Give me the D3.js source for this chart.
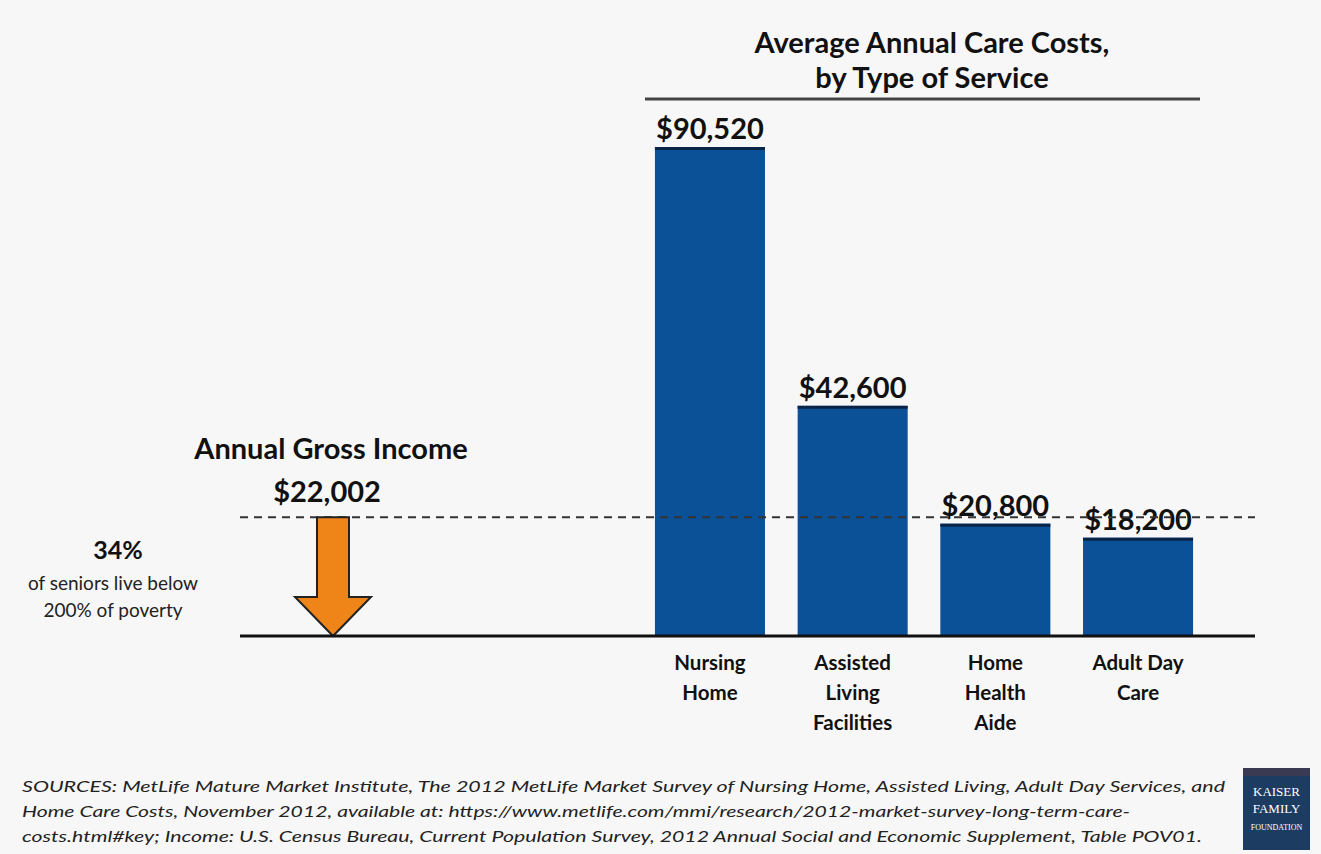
<!DOCTYPE html>
<html>
<head>
<meta charset="utf-8">
<script src="https://cdn.jsdelivr.net/npm/d3@7"></script>
<style>
  html, body { margin: 0; padding: 0; background: #f7f7f7; }
  svg { display: block; font-family: Lato, "Open Sans", sans-serif; }
  .value-label { font-size: 29px; font-weight: 700; fill: #111; }
  .cat-label { font-size: 20.5px; font-weight: 700; fill: #111; }
  .title { font-size: 29px; font-weight: 700; fill: #111; }
  .note { font-size: 19px; fill: #222; }
  .source { font-size: 15px; font-style: italic; fill: #222; }
</style>
</head>
<body>
<div id="chart"></div>
<script>
// Average annual care costs vs. annual gross income of seniors
const categories = ["Nursing Home", "Assisted Living Facilities", "Home Health Aide", "Adult Day Care"];
const categoryLines = [["Nursing", "Home"], ["Assisted", "Living", "Facilities"], ["Home", "Health", "Aide"], ["Adult Day", "Care"]];
const costs = [90520, 42600, 20800, 18200];
const valueLabels = ["$90,520", "$42,600", "$20,800", "$18,200"];
const income = 22002;
const incomeLabel = "$22,002";

const width = 1321;
const height = 854;
const baseY = 636;

const svg = d3.select("#chart")
  .append("svg")
  .attr("width", width)
  .attr("height", height);

svg.append("rect").attr("width", width).attr("height", height).attr("fill", "#f7f7f7");

const x = d3.scaleBand()
  .domain(categories)
  .range([638.6, 1209.4])
  .paddingInner(0.229)
  .paddingOuter(0.1145);

const y = d3.scaleLinear()
  .domain([0, 90520])
  .range([baseY, 147]);

// Title block
svg.append("text").attr("class", "title").attr("x", 932).attr("y", 53)
  .attr("text-anchor", "middle").text("Average Annual Care Costs,");
svg.append("text").attr("class", "title").attr("x", 932).attr("y", 88)
  .attr("text-anchor", "middle").text("by Type of Service");
svg.append("line").attr("x1", 645).attr("x2", 1200).attr("y1", 99).attr("y2", 99)
  .attr("stroke", "#444").attr("stroke-width", 3);

// Bars
svg.selectAll(".bar")
  .data(costs)
  .join("rect")
  .attr("class", "bar")
  .attr("x", (d, i) => x(categories[i]))
  .attr("y", d => y(d))
  .attr("width", x.bandwidth())
  .attr("height", d => baseY - y(d))
  .attr("fill", "#0b5197");

svg.selectAll(".bar-top")
  .data(costs)
  .join("line")
  .attr("class", "bar-top")
  .attr("x1", (d, i) => x(categories[i]))
  .attr("x2", (d, i) => x(categories[i]) + x.bandwidth())
  .attr("y1", d => y(d) + 1.5)
  .attr("y2", d => y(d) + 1.5)
  .attr("stroke", "#0a2447")
  .attr("stroke-width", 3);

svg.selectAll(".value-label")
  .data(costs)
  .join("text")
  .attr("class", "value-label")
  .attr("x", (d, i) => x(categories[i]) + x.bandwidth() / 2)
  .attr("y", d => y(d) - 8)
  .attr("text-anchor", "middle")
  .text((d, i) => valueLabels[i]);

// Category labels
categories.forEach((c, i) => {
  const t = svg.append("text").attr("class", "cat-label")
    .attr("x", x(c) + x.bandwidth() / 2)
    .attr("y", 670)
    .attr("text-anchor", "middle");
  categoryLines[i].forEach((line, j) => {
    t.append("tspan").attr("x", x(c) + x.bandwidth() / 2)
      .attr("dy", j === 0 ? 0 : 30).text(line);
  });
});

// Income dashed line
svg.append("line")
  .attr("x1", 240).attr("x2", 1255)
  .attr("y1", y(income)).attr("y2", y(income))
  .attr("stroke", "#333").attr("stroke-width", 2)
  .attr("stroke-dasharray", "8,6");

// Down arrow from income level to baseline
const ax = 333;
const arrowTop = y(income);
const headTop = baseY - 39;
svg.append("path")
  .attr("d", `M${ax - 16},${arrowTop} L${ax + 16},${arrowTop} L${ax + 16},${headTop} L${ax + 38},${headTop} L${ax},${baseY} L${ax - 38},${headTop} L${ax - 16},${headTop} Z`)
  .attr("fill", "#ef8419")
  .attr("stroke", "#222")
  .attr("stroke-width", 2);

// Baseline
svg.append("line").attr("x1", 240).attr("x2", 1255)
  .attr("y1", baseY).attr("y2", baseY)
  .attr("stroke", "#111").attr("stroke-width", 3);

// Income labels
svg.append("text").attr("class", "title").attr("x", 331).attr("y", 459)
  .attr("text-anchor", "middle").text("Annual Gross Income");
svg.append("text").attr("class", "value-label").attr("x", 327).attr("y", 502)
  .attr("text-anchor", "middle").text(incomeLabel);

svg.append("text").attr("x", 118).attr("y", 559).attr("text-anchor", "middle")
  .attr("font-size", 25).attr("font-weight", 700).attr("fill", "#111").text("34%");
svg.append("text").attr("class", "note").attr("x", 113).attr("y", 590)
  .attr("text-anchor", "middle").text("of seniors live below");
svg.append("text").attr("class", "note").attr("x", 113).attr("y", 617)
  .attr("text-anchor", "middle").text("200% of poverty");

// Sources
const sources = [
  "SOURCES: MetLife Mature Market Institute, The 2012 MetLife Market Survey of Nursing Home, Assisted Living, Adult Day Services, and",
  "Home Care Costs, November 2012, available at: https://www.metlife.com/mmi/research/2012-market-survey-long-term-care-",
  "costs.html#key; Income: U.S. Census Bureau, Current Population Survey, 2012 Annual Social and Economic Supplement, Table POV01."
];
const sourceWidths = [1203, 1108, 1180];
svg.selectAll(".source")
  .data(sources)
  .join("text")
  .attr("class", "source")
  .attr("x", 22)
  .attr("y", (d, i) => 792 + i * 25)
  .attr("textLength", (d, i) => sourceWidths[i])
  .attr("lengthAdjust", "spacingAndGlyphs")
  .text(d => d);

// Logo
const logo = svg.append("g").attr("transform", "translate(1243,768)");
logo.append("rect").attr("width", 67).attr("height", 82).attr("fill", "#1d3c62");
logo.append("rect").attr("width", 67).attr("height", 8).attr("fill", "#3a3a52");
["KAISER", "FAMILY", "FOUNDATION"].forEach((w, i) => {
  logo.append("text").attr("x", 33.5).attr("y", 28 + i * 17)
    .attr("text-anchor", "middle").attr("fill", "#fff")
    .attr("font-family", "'Liberation Serif', serif")
    .attr("font-size", i === 2 ? 8 : 13).text(w);
});
</script>
</body>
</html>
